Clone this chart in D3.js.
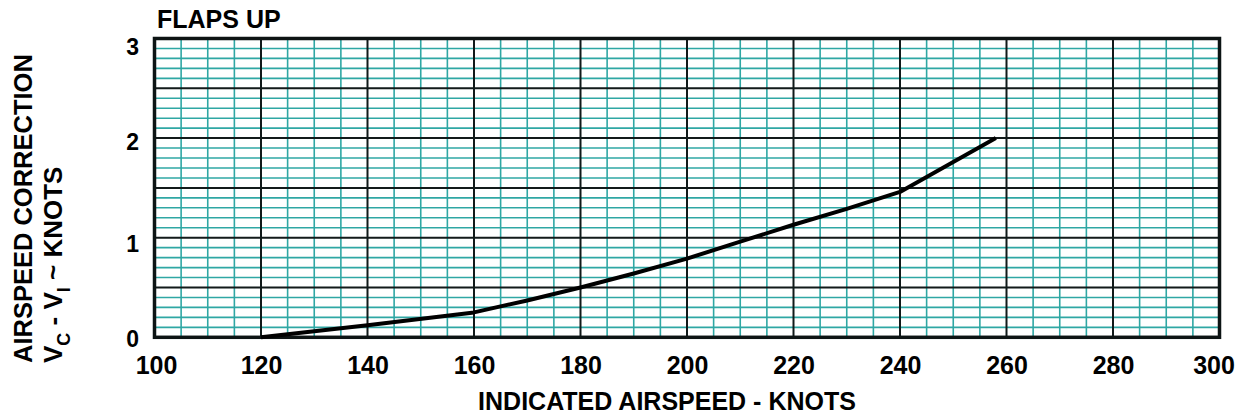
<!DOCTYPE html>
<html>
<head>
<meta charset="utf-8">
<script src="https://cdn.jsdelivr.net/npm/d3@7"></script>
<style>
  html, body { margin: 0; padding: 0; background: #fff; }
  svg { display: block; }
  text { font-family: "Liberation Sans", Arial, sans-serif; font-weight: bold; fill: #000; }
</style>
</head>
<body>
<svg id="chart" width="1239" height="416"></svg>
<script>
// Airspeed calibration, flaps up: correction (Vc - Vi) vs indicated airspeed
const indicatedAirspeed = [120, 140, 160, 170, 180, 190, 200, 210, 220, 230, 240, 258];
const correction        = [0, 0.12, 0.25, 0.37, 0.5, 0.64, 0.79, 0.96, 1.13, 1.29, 1.46, 2.0];

const xTicks = [100, 120, 140, 160, 180, 200, 220, 240, 260, 280, 300];
const yTicks = [0, 1, 2, 3];
const xDomain = [100, 300];
const yDomain = [0, 3];

const margin = { left: 154.5, right: 19.5, top: 38.5, bottom: 78.7 };
const W = 1239, H = 416;

const svg = d3.select("#chart");

const x = d3.scaleLinear().domain(xDomain).range([margin.left, W - margin.right]);
const y = d3.scaleLinear().domain(yDomain).range([H - margin.bottom, margin.top]);

const g = svg.append("g");

// minor grid: every 5 knots and every 0.1 knot of correction
const minorX = d3.range(xDomain[0], xDomain[1] + 0.001, 5).filter(v => v % 20 !== 0);
const minorY = d3.range(0, 31).map(i => i / 10).filter((v, i) => i % 5 !== 0);
const majorX = d3.range(xDomain[0], xDomain[1] + 0.001, 20);
const majorY = d3.range(0, 7).map(i => i * 0.5);

const teal = "#2fa7a4";

g.append("g").selectAll("line").data(minorY).join("line")
  .attr("x1", x(xDomain[0])).attr("x2", x(xDomain[1]))
  .attr("y1", d => y(d)).attr("y2", d => y(d))
  .attr("stroke", teal).attr("stroke-width", 1.6);

g.append("g").selectAll("line").data(minorX).join("line")
  .attr("x1", d => x(d)).attr("x2", d => x(d))
  .attr("y1", y(yDomain[0])).attr("y2", y(yDomain[1]))
  .attr("stroke", teal).attr("stroke-width", 1.6);

g.append("g").selectAll("line").data(majorY).join("line")
  .attr("x1", x(xDomain[0])).attr("x2", x(xDomain[1]))
  .attr("y1", d => y(d)).attr("y2", d => y(d))
  .attr("stroke", "#111a1a").attr("stroke-width", 2);

g.append("g").selectAll("line").data(majorX).join("line")
  .attr("x1", d => x(d)).attr("x2", d => x(d))
  .attr("y1", y(yDomain[0])).attr("y2", y(yDomain[1]))
  .attr("stroke", "#111a1a").attr("stroke-width", 2);

// frame
g.append("rect")
  .attr("x", x(xDomain[0])).attr("y", y(yDomain[1]))
  .attr("width", x(xDomain[1]) - x(xDomain[0]))
  .attr("height", y(yDomain[0]) - y(yDomain[1]))
  .attr("fill", "none").attr("stroke", "#0d1414").attr("stroke-width", 3.5);

// correction curve
const line = d3.line()
  .x((d, i) => x(indicatedAirspeed[i]))
  .y(d => y(d))
  .curve(d3.curveLinear);

g.append("path")
  .datum(correction)
  .attr("d", line)
  .attr("fill", "none")
  .attr("stroke", "#000")
  .attr("stroke-width", 4)
  .attr("stroke-linejoin", "round");

const labelFont = "'Liberation Sans', Arial, sans-serif";

// x axis labels
const xAxis = d3.axisBottom(x).tickValues(xTicks).tickSize(0).tickPadding(0)
  .tickFormat(d3.format("d"));
const xa = svg.append("g").attr("transform", `translate(0,${y(0)})`).call(xAxis);
xa.select(".domain").remove();
xa.selectAll("text")
  .attr("y", 37).attr("dy", null)
  .attr("dx", d => d === 300 ? -6 : (d === 100 ? 1.5 : 0))
  .style("font-size", "25px").style("font-family", labelFont)
  .style("font-weight", "bold").attr("fill", "#000");

// y axis labels
const yShift = { 0: 9.2, 1: 14.2, 2: 11.2, 3: 15.7 };
const yAxis = d3.axisLeft(y).tickValues(yTicks).tickSize(0).tickPadding(0)
  .tickFormat(d3.format("d"));
const ya = svg.append("g").attr("transform", `translate(${x(100) - 15.5},0)`).call(yAxis);
ya.select(".domain").remove();
ya.selectAll("text")
  .attr("dy", d => yShift[d])
  .style("font-size", "23px").style("font-family", labelFont)
  .style("font-weight", "bold").attr("fill", "#000");

// title
svg.append("text")
  .attr("x", x(100) + 2.5).attr("y", 28)
  .style("font-size", "25px")
  .text("FLAPS UP");

// x axis title
svg.append("text")
  .attr("x", 667).attr("y", 410)
  .attr("text-anchor", "middle")
  .style("font-size", "25px")
  .text("INDICATED AIRSPEED - KNOTS");

// y axis title, two lines
svg.append("text")
  .attr("transform", "translate(32,363) rotate(-90)")
  .style("font-size", "25.5px")
  .text("AIRSPEED CORRECTION");

const t2 = svg.append("text")
  .attr("transform", "translate(62,363) rotate(-90)")
  .style("font-size", "26px");
t2.append("tspan").text("V");
t2.append("tspan").attr("dy", 8).style("font-size", "18px").text("C");
t2.append("tspan").attr("dy", -8).text(" - V");
t2.append("tspan").attr("dy", 8).style("font-size", "18px").text("I");
t2.append("tspan").attr("dy", -8).text(" ~ KNOTS");
</script>
</body>
</html>
